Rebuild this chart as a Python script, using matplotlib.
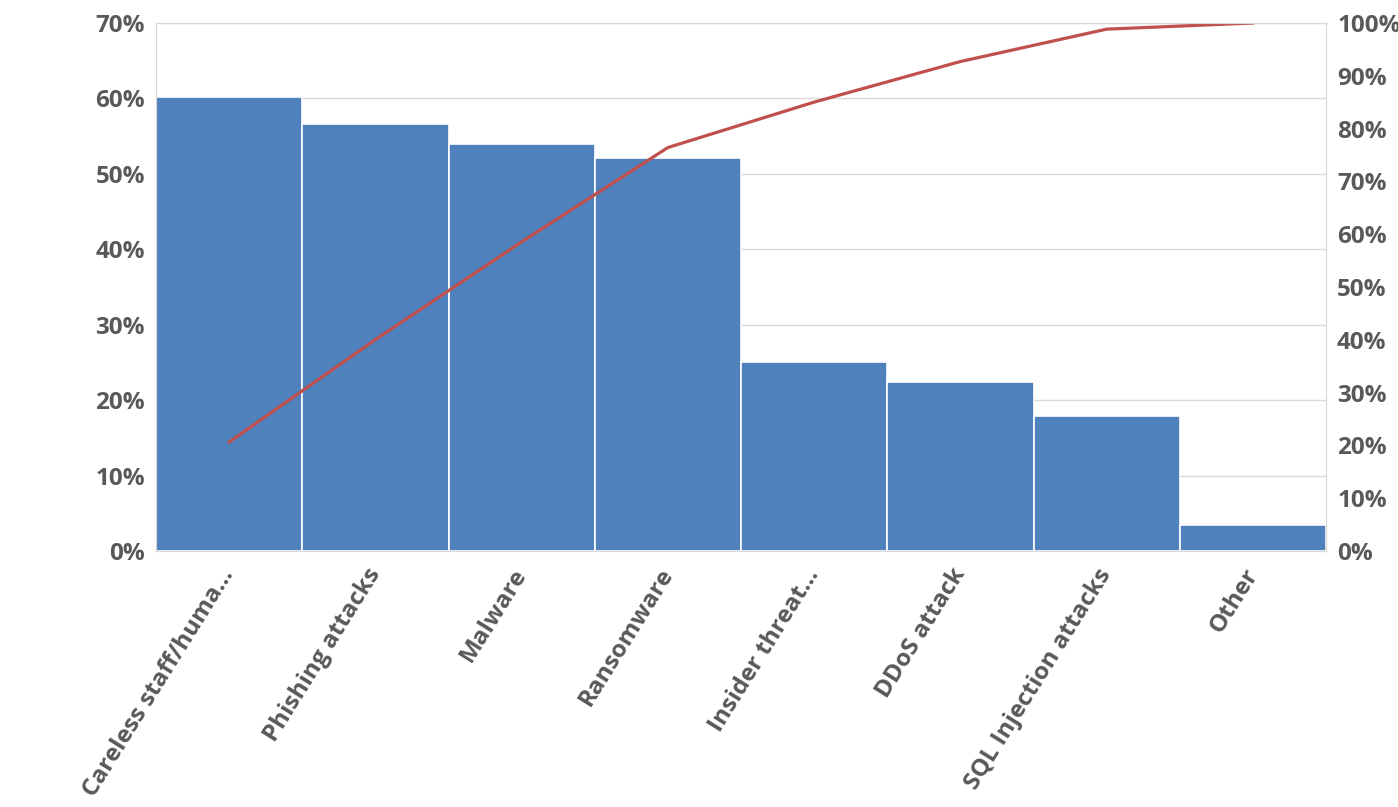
import numpy as np
import matplotlib.pyplot as plt

# causes and share of respondents (%)
causes = ['Careless staff/huma…', 'Phishing attacks', 'Malware', 'Ransomware',
          'Insider threat…', 'DDoS attack', 'SQL Injection attacks', 'Other']
share = [60.2, 56.6, 54.0, 52.1, 25.1, 22.4, 17.9, 3.4]
left_ticks = [0, 10, 20, 30, 40, 50, 60, 70]
right_ticks = [0, 10, 20, 30, 40, 50, 60, 70, 80, 90, 100]

# cumulative percentage for the pareto line
cum = np.cumsum(share) / np.sum(share) * 100

plt.rcParams['font.family'] = ['Open Sans', 'DejaVu Sans']
txt = '#595959'
grid = '#D9D9D9'

fig = plt.figure(figsize=(13.98, 8.07), dpi=100)
ax = fig.add_axes([0.1116, 0.3172, 0.8369, 0.6543])
x = np.arange(len(causes))
ax.bar(x, share, width=1.0, color='#4F81BD', edgecolor='white', linewidth=1.2, zorder=2)
ax.set_xlim(-0.5, len(causes) - 0.5)
ax.set_ylim(0, 70)
ax.set_yticks(left_ticks)
ax.set_yticklabels([f'{t}%' for t in left_ticks])
ax.yaxis.grid(True, color=grid, linewidth=1, zorder=0)
ax.set_axisbelow(True)
ax.set_xticks(x)
ax.set_xticklabels(causes, rotation=58, ha='right', va='center', rotation_mode='anchor')
ax.tick_params(length=0, labelsize=17.5, labelcolor=txt)
ax.tick_params(axis='x', pad=14)
ax.tick_params(axis='y', pad=8)
for lab in ax.get_xticklabels() + ax.get_yticklabels():
    lab.set_fontweight('bold')
for s in ax.spines.values():
    s.set_color(grid)

ax2 = ax.twinx()
ax2.plot(x, cum, color='#C0504D', linewidth=2.3)
ax2.set_ylim(0, 100)
ax2.set_yticks(right_ticks)
ax2.set_yticklabels([f'{t}%' for t in right_ticks])
ax2.tick_params(length=0, labelsize=17.5, labelcolor=txt, pad=8)
for lab in ax2.get_yticklabels():
    lab.set_fontweight('bold')
for s in ax2.spines.values():
    s.set_color(grid)

plt.savefig('out.png', dpi=100)
